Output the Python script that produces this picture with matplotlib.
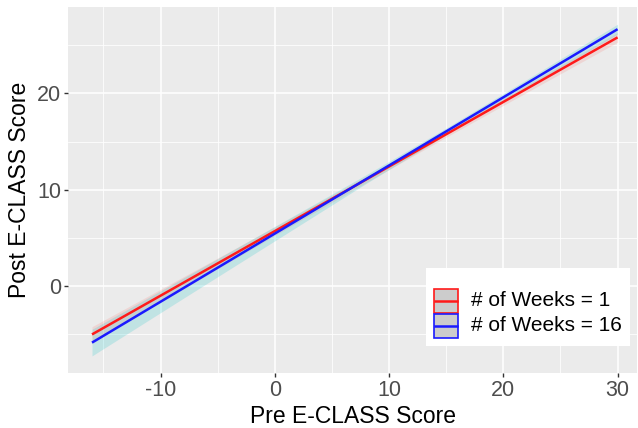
import matplotlib
matplotlib.use("Agg")
import matplotlib.pyplot as plt
from matplotlib.patches import Rectangle
from matplotlib.lines import Line2D
import numpy as np

plt.rcParams['font.family'] = ['Liberation Sans', 'DejaVu Sans']
plt.rcParams['axes.unicode_minus'] = False

# ---- data ----
groups = ["# of Weeks = 1", "# of Weeks = 16"]
line_colors = ["#FF1A1A", "#1A1AFF"]
ribbon_colors = ["#F8766D", "#00BFC4"]
x_ends = [-16, 30]
y_week1 = [-5.0, 25.8]
y_week16 = [-5.85, 26.65]
ci_x = [-16, -8, 0, 8, 15, 22, 30]
ci_half_week1 = [0.80, 0.62, 0.45, 0.32, 0.30, 0.38, 0.50]
ci_half_week16 = [1.38, 1.05, 0.75, 0.45, 0.35, 0.40, 0.52]
x_ticks = [-10, 0, 10, 20, 30]
y_ticks = [0, 10, 20]

W, H = 638, 428
fig = plt.figure(figsize=(W / 100, H / 100), dpi=100)
L, R, T, B = 68, 637, 7, 373
ax = fig.add_axes([L / W, 1 - B / H, (R - L) / W, (B - T) / H])
ax.set_facecolor("#EBEBEB")
for s in ax.spines.values():
    s.set_visible(False)

ax.set_xlim(-18.1, 31.7)
ax.set_ylim(-9.0, 28.95)
ax.set_xticks(x_ticks)
ax.set_yticks(y_ticks)
ax.set_xticks([-15, -5, 5, 15, 25], minor=True)
ax.set_yticks([-5, 5, 15, 25], minor=True)
ax.grid(True, which="major", color="white", lw=1.1)
ax.grid(True, which="minor", color="white", lw=0.55)
ax.set_axisbelow(True)
ax.tick_params(which="major", length=3, width=1.0, color="#333333",
               labelsize=15.5, labelcolor="#4D4D4D", pad=2)
ax.tick_params(which="minor", length=0)

ys = [y_week1, y_week16]
cis = [ci_half_week1, ci_half_week16]
for i in range(2):
    cx = np.array(ci_x, dtype=float)
    slope = (ys[i][1] - ys[i][0]) / (x_ends[1] - x_ends[0])
    cy = ys[i][0] + slope * (cx - x_ends[0])
    hw = np.array(cis[i])
    ax.fill_between(cx, cy - hw, cy + hw, color=ribbon_colors[i], alpha=0.18, lw=0)
for i in range(2):
    ax.plot(x_ends, ys[i], color=line_colors[i], lw=1.8, solid_capstyle="butt")

ax.set_xlabel("Pre E-CLASS Score", fontsize=16.5, color="black", labelpad=3)
ax.set_ylabel("Post E-CLASS Score", fontsize=16.5, color="black", labelpad=4)

# legend
def fx(px):
    return px / W
def fy(py):
    return 1 - py / H

fig.patches.append(Rectangle((fx(426), fy(346)), fx(630) - fx(426), fy(268) - fy(346),
                             transform=fig.transFigure, facecolor="white", edgecolor="none"))
key_tops = [289, 313.5]
for i in range(2):
    kt = key_tops[i]
    fig.patches.append(Rectangle((fx(434), fy(kt + 24)), fx(458) - fx(434), fy(kt) - fy(kt + 24),
                                 transform=fig.transFigure, facecolor="#CCCCCC",
                                 edgecolor=line_colors[i], lw=1.2))
    fig.lines.append(Line2D([fx(435), fx(457)], [fy(kt + 12), fy(kt + 12)],
                            transform=fig.transFigure, color=line_colors[i], lw=1.8))
    fig.text(fx(471), fy(kt + 12), groups[i], fontsize=15, color="black",
             va="center", ha="left")

fig.savefig("out.png", dpi=100)
